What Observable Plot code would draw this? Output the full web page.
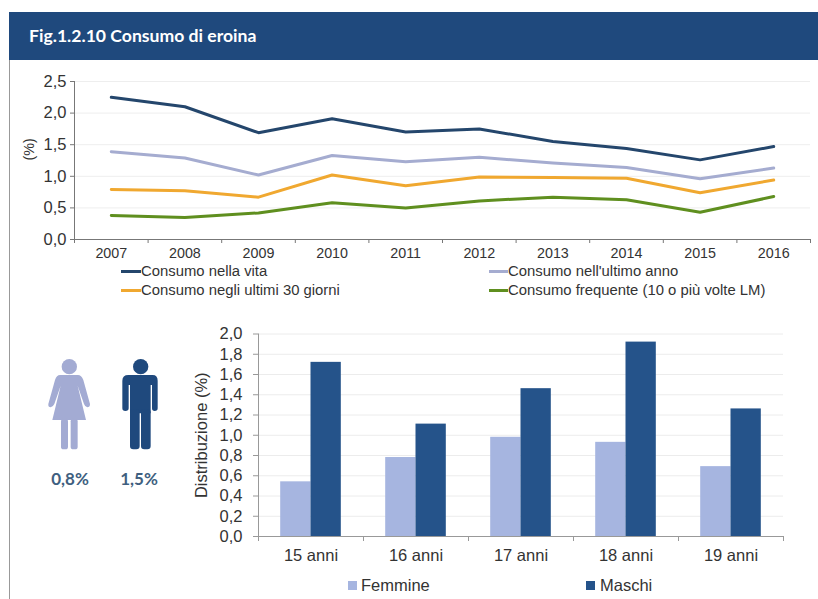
<!DOCTYPE html>
<html><head><meta charset="utf-8">
<script src="https://cdn.jsdelivr.net/npm/d3@7"></script>
<script src="https://cdn.jsdelivr.net/npm/@observablehq/plot@0.6"></script>
<style>
html,body{margin:0;padding:0;background:#fff;}
#page{position:relative;width:818px;height:599px;overflow:hidden;font-family:"Liberation Sans",Arial,sans-serif;color:#333;}
#page>*{position:absolute;}
#hdr{left:9px;top:12px;width:809px;height:48px;background:#1f497d;color:#fff;font:bold 17.6px Lato,sans-serif;line-height:47px;text-indent:20px;}
#rule{left:9px;top:60px;width:1px;height:539px;background:#999;}
.lg{font-size:14.85px;line-height:18px;white-space:nowrap;color:#333;}
.sw{height:3px;}
.sq{width:9px;height:9px;}
.pct{font:bold 17px Lato,sans-serif;color:#3f5f80;transform:translateX(-50%);}
svg{overflow:visible;}
</style></head><body>
<div id="page">
<div id="hdr">Fig.1.2.10 Consumo di eroina</div>
<div id="rule"></div>
<div id="top" style="left:0;top:60px"></div>
<div id="bot" style="left:0;top:320px"></div>
<svg style="left:0;top:320px" width="300" height="279" viewBox="0 0 900 837">
<g fill="#a3abd3"><circle cx="208" cy="140" r="23"/>
<path d="M180 165H234Q244 165 250 180L270 252Q270 262 262 262Q256 262 252 252L233 197L258 300H157L182 197L163 252Q158 262 152 262Q144 262 145 252L165 180Q170 165 180 165Z"/>
<rect x="183" y="296" width="21" height="92" rx="8"/><rect x="212" y="296" width="21" height="92" rx="8"/></g>
<g fill="#1f497d"><circle cx="422" cy="140" r="23"/>
<path d="M385 165H458Q473 165 473 182V265Q473 273 464 273Q456 273 456 265V195H452V280H390V195H386V265Q386 273 376 273Q367 273 367 265V182Q367 165 385 165Z"/>
<rect x="390" y="268" width="29" height="120" rx="10"/><rect x="423" y="268" width="29" height="120" rx="10"/></g>
</svg>
<div class="pct" style="left:70px;top:468px">0,8%</div>
<div class="pct" style="left:139px;top:468px">1,5%</div>
<div class="sw" style="left:121px;top:270px;width:20px;background:#24466c"></div><div class="lg" style="left:141px;top:262px">Consumo nella vita</div>
<div class="sw" style="left:489px;top:270px;width:19px;background:#a5acd0"></div><div class="lg" style="left:508px;top:262px">Consumo nell'ultimo anno</div>
<div class="sw" style="left:121px;top:289px;width:20px;background:#f0a830"></div><div class="lg" style="left:141px;top:281px">Consumo negli ultimi 30 giorni</div>
<div class="sw" style="left:489px;top:289px;width:19px;background:#5f8f1f"></div><div class="lg" style="left:508px;top:281px">Consumo frequente (10 o più volte LM)</div>
<div class="sq" style="left:348px;top:581px;background:#a6b5e0"></div><div class="lg" style="left:361px;top:576px;font-size:16.5px">Femmine</div>
<div class="sq" style="left:586px;top:581px;background:#25538a"></div><div class="lg" style="left:600px;top:576px;font-size:16.5px">Maschi</div>
</div>
<script>
const years = [2007,2008,2009,2010,2011,2012,2013,2014,2015,2016];
const vita = [2.25,2.10,1.69,1.91,1.70,1.75,1.55,1.44,1.26,1.47];
const anno = [1.39,1.29,1.02,1.33,1.23,1.30,1.21,1.14,0.96,1.13];
const giorni = [0.79,0.77,0.67,1.02,0.85,0.99,0.98,0.97,0.74,0.94];
const frequente = [0.38,0.35,0.42,0.58,0.50,0.61,0.67,0.63,0.43,0.68];
const yTop = [0,0.5,1,1.5,2,2.5];

const ages = ["15 anni","16 anni","17 anni","18 anni","19 anni"];
const femmine = [0.54,0.78,0.98,0.93,0.69];
const maschi = [1.72,1.11,1.46,1.92,1.26];
const yBot = [0,0.2,0.4,0.6,0.8,1,1.2,1.4,1.6,1.8,2];

const comma = d => d3.format(".1f")(d).replace(".", ",");
const lineSeries = [[vita,"#24466c"],[anno,"#a5acd0"],[giorni,"#f0a830"],[frequente,"#5f8f1f"]];
const yearEdges = [...years.map(y => y - 0.5), years[years.length-1] + 0.5];

document.getElementById("top").append(Plot.plot({
  width: 818, height: 205, marginLeft: 74, marginRight: 8, marginTop: 21, marginBottom: 26,
  style: {fontFamily: '"Liberation Sans",Arial,sans-serif', fontSize: "14.3px", color: "#333", background: "transparent"},
  x: {domain: [yearEdges[0], yearEdges[yearEdges.length-1]]},
  y: {domain: [0, 2.5]},
  marks: [
    Plot.ruleY(yTop.slice(1), {stroke: "#eeeeee", strokeWidth: 1}),
    Plot.axisX(yearEdges, {tickSize: 4, stroke: "#777", tickFormat: () => "", label: null}),
    Plot.axisX(years, {tickSize: 0, tickPadding: 8, tickFormat: d => String(d), label: null, fill: "#333"}),
    Plot.axisY(yTop, {tickSize: 4, tickPadding: 4, stroke: "#777", tickFormat: comma, label: null, fontSize: 16.5, fill: "#333"}),
    Plot.text(["(%)"], {text: d => d, frameAnchor: "left", rotate: -90, dx: -45, fontSize: 14.3, fill: "#333"}),
    Plot.ruleX([yearEdges[0]], {stroke: "#777"}),
    Plot.ruleY([0], {stroke: "#777"}),
    ...lineSeries.map(([v, c]) => Plot.line(years.map((y, i) => ({y0: y, v: v[i]})), {x: "y0", y: "v", stroke: c, strokeWidth: 3, curve: "linear"}))
  ]
}));

const edges = d3.range(ages.length + 1);
const barHalf = 0.2886;
const rows = ages.flatMap((a, i) => [
  {x1: i + 0.5 - barHalf, x2: i + 0.5, v: femmine[i], c: "#a6b5e0"},
  {x1: i + 0.5, x2: i + 0.5 + barHalf, v: maschi[i], c: "#25538a"}
]);
document.getElementById("bot").append(Plot.plot({
  width: 818, height: 270, marginLeft: 258, marginRight: 35, marginTop: 13.5, marginBottom: 54,
  style: {fontFamily: '"Liberation Sans",Arial,sans-serif', fontSize: "16.5px", color: "#333", background: "transparent"},
  x: {domain: [0, ages.length]},
  y: {domain: [0, 2]},
  marks: [
    Plot.ruleY(yBot.slice(1), {stroke: "#ececec", strokeWidth: 1}),
    Plot.rectY(rows, {x1: "x1", x2: "x2", y: "v", fill: "c", inset: 0}),
    Plot.axisX(edges, {tickSize: 5, stroke: "#999", tickFormat: () => "", label: null}),
    Plot.axisX(ages.map((a, i) => i + 0.5), {tickSize: 0, tickPadding: 13, tickFormat: d => ages[Math.floor(d)], label: null, fill: "#333"}),
    Plot.axisY(yBot, {tickSize: 5, tickPadding: 11, stroke: "#999", tickFormat: comma, label: "Distribuzione (%)", labelAnchor: "center", labelArrow: "none", labelOffset: 63, fill: "#333"}),
    Plot.ruleX([0], {stroke: "#999"}),
    Plot.ruleY([0], {stroke: "#999"})
  ]
}));
</script>
</body></html>
